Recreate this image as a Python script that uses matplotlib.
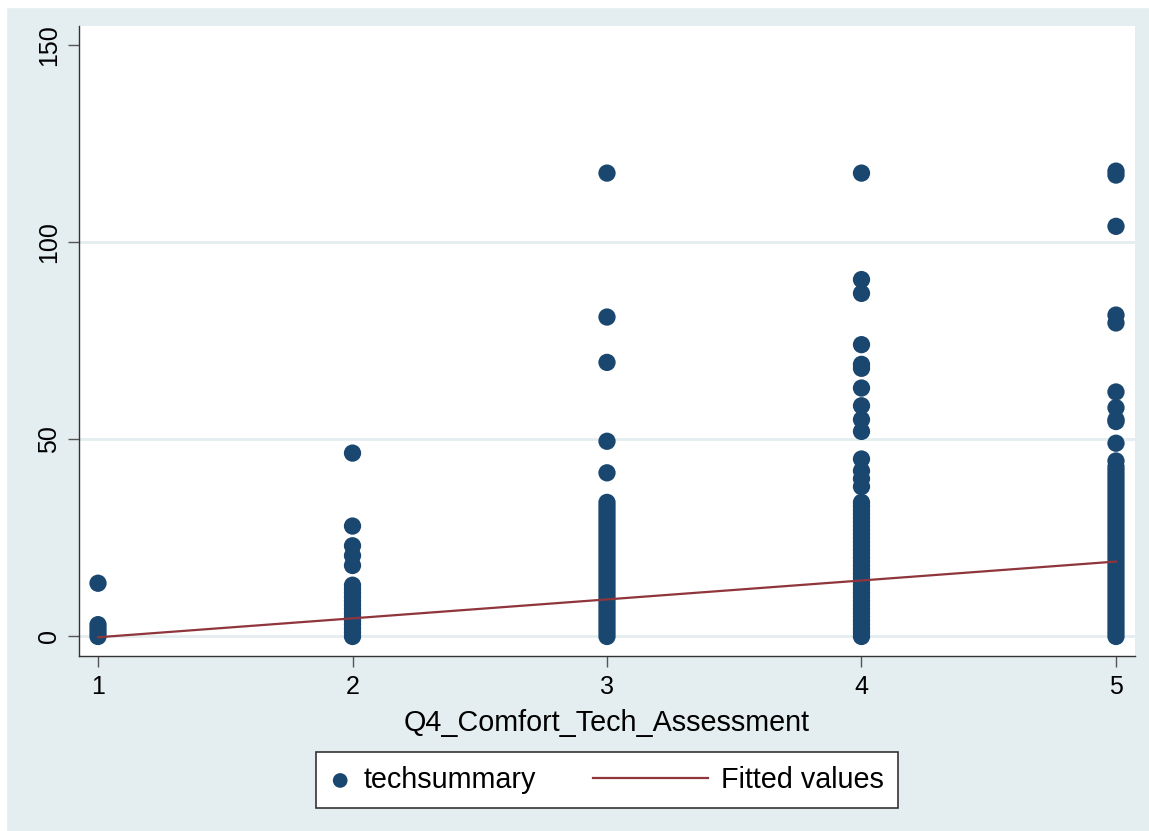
import numpy as np
import matplotlib
matplotlib.use("Agg")
import matplotlib.pyplot as plt
from matplotlib.patches import Rectangle
from matplotlib.legend_handler import HandlerLine2D

plt.rcParams['font.family'] = ['Liberation Sans', 'DejaVu Sans']

# techsummary values observed at each comfort level
tech_q1 = [0, 1, 2, 3, 13.5]
tech_q2 = [0, 1, 2, 3, 4, 5, 6, 7, 8, 9, 10, 11, 12, 13,
           18, 20.5, 23, 28, 46.5]
tech_q3 = [0, 1, 2, 3, 4, 5, 6, 7, 8, 9, 10, 11, 12, 13, 14, 15, 16, 17,
           18, 19, 20, 21, 22, 23, 24, 25, 26, 27, 28, 29, 30, 31, 32, 33,
           34, 41.5, 49.5, 69.5, 81, 117.5]
tech_q4 = [0, 1, 2, 3, 4, 5, 6, 7, 8, 9, 10, 11, 12, 13, 14, 15, 16, 17,
           18, 19, 20, 21, 22, 23, 24, 25, 26, 27, 28, 29, 30, 31, 32, 33,
           34, 38, 40, 42, 45, 52, 55, 58.5, 63, 68, 69, 74, 87, 90.5, 117.5]
tech_q5 = [0, 1, 2, 3, 4, 5, 6, 7, 8, 9, 10, 11, 12, 13, 14, 15, 16, 17,
           18, 19, 20, 21, 22, 23, 24, 25, 26, 27, 28, 29, 30, 31, 32, 33,
           34, 35, 36, 37, 38, 39, 40, 41, 42, 43, 44.5, 49, 54.5, 55, 58,
           62, 79.5, 81.5, 104, 117, 118]

levels = [1, 2, 3, 4, 5]
fitted = [-0.2, 4.6, 9.4, 14.2, 19.0]

yticks = [0, 50, 100, 150]
grid_at = [0, 50, 100]

bg = '#E4EDEF'
navy = '#1A476F'
maroon = '#90353B'


class LongLine(HandlerLine2D):
    # legend line that reaches further left than the shared handle box
    def create_artists(self, legend, orig_handle, xdescent, ydescent,
                       width, height, fontsize, trans):
        extra = 3.3 * fontsize
        return super().create_artists(legend, orig_handle, xdescent + extra,
                                      ydescent, width + extra, height,
                                      fontsize, trans)


fig = plt.figure(figsize=(11.49, 8.31), dpi=100, facecolor=bg)
# thin white strip along the top and left edges
fig.patches.append(Rectangle((0, 1 - 7 / 831), 1, 7 / 831,
                             transform=fig.transFigure, color='white', zorder=0))
fig.patches.append(Rectangle((0, 0), 6 / 1149, 1,
                             transform=fig.transFigure, color='white', zorder=0))

ax = fig.add_axes([79 / 1149, (831 - 656) / 831,
                   (1135 - 79) / 1149, (656 - 26) / 831])
ax.set_facecolor('white')

xs, ys = [], []
for lvl, vals in zip(levels, [tech_q1, tech_q2, tech_q3, tech_q4, tech_q5]):
    xs += [lvl] * len(vals)
    ys += vals

pts = ax.scatter(xs, ys, s=155, color=navy, edgecolors='none', zorder=3,
                 label='techsummary')
fit_line, = ax.plot(levels, fitted, color=maroon, lw=1.6, zorder=4,
                    label='Fitted values')

ax.set_xlim(0.9253, 5.0747)
ax.set_ylim(-4.95, 154.8)
ax.set_xticks(levels)
ax.set_yticks(yticks)
ax.set_yticklabels([str(t) for t in yticks], rotation=90, va='center')

for t in grid_at:
    ax.axhline(t, color=bg, lw=2, zorder=1)

for side in ['top', 'right']:
    ax.spines[side].set_visible(False)
for side in ['left', 'bottom']:
    ax.spines[side].set_color('#333333')
    ax.spines[side].set_linewidth(1.0)

ax.tick_params(axis='both', length=8, width=1.0, color='#555555',
               labelsize=18, labelcolor='black')
ax.tick_params(axis='y', pad=5)
ax.tick_params(axis='x', pad=6)

ax.set_xlabel('Q4_Comfort_Tech_Assessment', fontsize=20.7, labelpad=7)

leg = fig.legend([pts, fit_line], ['techsummary', 'Fitted values'],
                 loc='center', bbox_to_anchor=(607 / 1149, 1 - 780 / 831),
                 ncol=2, fontsize=20.7, frameon=True, fancybox=False,
                 handlelength=0.7, columnspacing=5.3, handletextpad=0.45,
                 borderpad=0.5, markerscale=0.85,
                 handler_map={fit_line: LongLine()})
leg.get_frame().set_edgecolor('#333333')
leg.get_frame().set_linewidth(1.2)
leg.get_frame().set_facecolor('white')
leg.get_frame().set_alpha(1)

fig.savefig('out.png', dpi=100, facecolor=bg)
